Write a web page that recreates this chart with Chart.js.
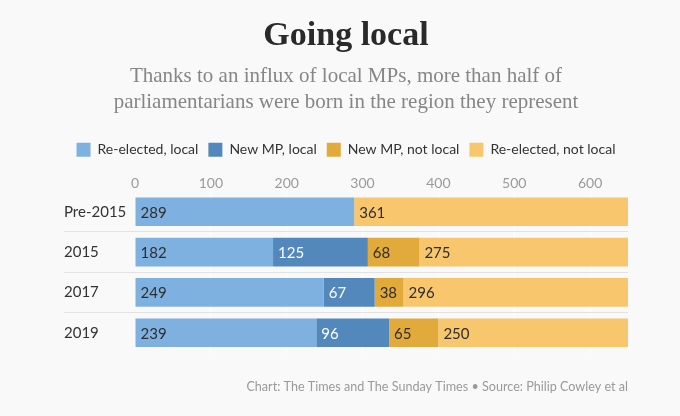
<!DOCTYPE html>
<html>
<head>
<meta charset="utf-8">
<script src="https://cdn.jsdelivr.net/npm/chart.js@4.4.1/dist/chart.umd.min.js"></script>
<style>
  html, body { margin: 0; padding: 0; background: #f9f9f9; }
  #wrap { width: 680px; height: 416px; }
</style>
</head>
<body>
<div id="wrap"><canvas id="c" width="680" height="416"></canvas></div>
<script>
// ---- data ----
const categories = ['Pre-2015', '2015', '2017', '2019'];
const seriesNames = ['Re-elected, local', 'New MP, local', 'New MP, not local', 'Re-elected, not local'];
const reElectedLocal = [289, 182, 249, 239];
const newMpLocal = [0, 125, 67, 96];
const newMpNotLocal = [0, 68, 38, 65];
const reElectedNotLocal = [361, 275, 296, 250];
const xTickValues = [0, 100, 200, 300, 400, 500, 600];
const titleText = 'Going local';
const subtitleLines = ['Thanks to an influx of local MPs, more than half of', 'parliamentarians were born in the region they represent'];
const footerText = 'Chart: The Times and The Sunday Times \u2022 Source: Philip Cowley et al';

const colors = ['#7fb1e0', '#5288bb', '#e1aa3b', '#f8c66d'];
const labelColors = ['#2e2e2e', '#ffffff', '#2e2e2e', '#2e2e2e'];
const seriesValues = [reElectedLocal, newMpLocal, newMpNotLocal, reElectedNotLocal];

const SANS = 'Lato, "Open Sans", sans-serif';

const barLabels = {
  id: 'barLabels',
  afterDatasetsDraw(chart) {
    const ctx = chart.ctx;
    ctx.save();
    ctx.font = '15px ' + SANS;
    ctx.textAlign = 'left';
    ctx.textBaseline = 'middle';
    chart.data.datasets.forEach((ds, di) => {
      const meta = chart.getDatasetMeta(di);
      meta.data.forEach((el, i) => {
        const v = ds.data[i];
        if (!v) return;
        const left = Math.min(el.base, el.x);
        ctx.fillStyle = labelColors[di];
        ctx.fillText(String(v), left + 5, el.y + 1);
      });
    });
    ctx.restore();
  }
};

new Chart(document.getElementById('c'), {
  type: 'bar',
  data: {
    labels: categories,
    datasets: seriesValues.map((vals, i) => ({
      label: seriesNames[i],
      data: vals,
      backgroundColor: colors[i],
      borderWidth: 0,
      barPercentage: 0.71,
      categoryPercentage: 1.0
    }))
  },
  options: {
    indexAxis: 'y',
    responsive: false,
    devicePixelRatio: 1,
    animation: false,
    layout: { padding: { left: 64, right: 52, top: 0, bottom: 18 } },
    plugins: {
      title: {
        display: true,
        text: titleText,
        color: '#2a2a2a',
        font: { family: '"Liberation Serif", serif', size: 34, weight: 'bold', lineHeight: 1.2 },
        padding: { top: 16, bottom: 0 }
      },
      subtitle: {
        display: true,
        text: subtitleLines,
        color: '#868686',
        font: { family: '"Liberation Serif", serif', size: 21, lineHeight: 26 / 21 },
        padding: { top: 7, bottom: 17 }
      },
      legend: {
        display: true,
        position: 'top',
        align: 'center',
        labels: {
          boxWidth: 14,
          boxHeight: 14,
          color: '#333333',
          font: { family: SANS, size: 14 },
          padding: 10
        }
      },
      tooltip: { enabled: false }
    },
    scales: {
      x: {
        type: 'linear',
        position: 'top',
        stacked: true,
        min: 0,
        max: 650,
        z: 1,
        afterBuildTicks: (s) => { s.ticks = xTickValues.map(v => ({ value: v })); },
        afterFit: (s) => { s.height += 8; },
        border: { display: false },
        grid: {
          drawTicks: false,
          lineWidth: 1,
          color: (c) => (c.tick && c.tick.value === 0) ? 'rgba(0,0,0,0)' : 'rgba(255,255,255,0.75)'
        },
        ticks: {
          color: '#9a9a9a',
          padding: 0,
          font: { family: SANS, size: 14 },
          maxRotation: 0
        }
      },
      x2: {
        type: 'linear',
        position: 'bottom',
        display: true,
        grid: { display: false, drawTicks: false },
        border: { display: false },
        ticks: { display: false },
        title: {
          display: true,
          text: footerText,
          align: 'end',
          color: '#9a9a9a',
          font: { family: SANS, size: 12.6 },
          padding: { top: 26, bottom: 4 }
        }
      },
      y: {
        stacked: true,
        position: 'left',
        afterFit: (s) => { s.width = 71; },
        border: { display: false },
        grid: {
          offset: true,
          drawTicks: true,
          tickLength: 71,
          lineWidth: 1,
          color: (c) => (c.type !== 'tick' || c.index === 0 || c.index >= categories.length) ? 'rgba(0,0,0,0)' : '#e2e2e2'
        },
        ticks: {
          crossAlign: 'far',
          color: '#333333',
          padding: 0,
          font: { family: SANS, size: 15 }
        }
      }
    }
  },
  plugins: [barLabels]
});
</script>
</body>
</html>
